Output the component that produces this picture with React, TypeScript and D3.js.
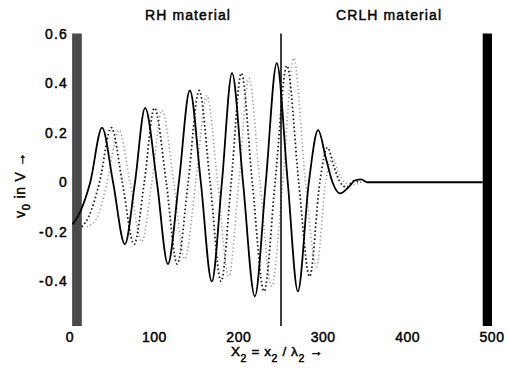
import React, { useEffect, useRef } from 'react';
import * as d3 from 'd3';

// tick values
const xTicks = [0, 100, 200, 300, 400, 500];
const yTicks = [-0.4, -0.2, 0, 0.2, 0.4, 0.6];

// solid curve (x in units of X2, value in V)
const solidWave: [number, number][] = [
  [3, -0.17], [12, -0.12], [24, 0], [38, 0.22], [51, 0], [65, -0.25], [77, 0],
  [89, 0.3], [103, 0], [116, -0.33], [129, 0], [142, 0.37], [155, 0], [168, -0.4],
  [180, 0], [192, 0.44], [205, 0], [219, -0.46], [232, 0], [245, 0.48], [258, 0],
  [270, -0.44], [283, 0], [294, 0.21], [303, 0.1], [311, 0], [320, -0.045],
  [330, -0.02], [338, 0.008], [345, 0.012], [352, 0], [489, 0]
];

// dark dotted curve
const darkDotted: [number, number][] = [
  [14, -0.18], [22, -0.14], [35, 0], [49, 0.22], [62, 0], [76, -0.25], [88, 0],
  [100, 0.3], [114, 0], [127, -0.33], [140, 0], [153, 0.37], [166, 0], [179, -0.4],
  [191, 0], [203, 0.44], [216, 0], [230, -0.44], [243, 0], [257, 0.47], [271, 0],
  [284, -0.38], [296, 0], [305, 0.14], [313, 0.06], [320, 0], [328, -0.02],
  [336, 0.005], [345, 0]
];

// light grey dotted curve
const lightDotted: [number, number][] = [
  [20, -0.18], [31, -0.15], [44, 0], [58, 0.21], [71, 0], [85, -0.24], [97, 0],
  [109, 0.29], [123, 0], [136, -0.31], [149, 0], [162, 0.35], [175, 0], [188, -0.38],
  [200, 0], [212, 0.42], [225, 0], [239, -0.42], [252, 0], [265, 0.5], [279, 0],
  [292, -0.34], [303, 0], [311, 0.1], [318, 0.04], [326, 0], [334, -0.01], [345, 0]
];

// boundaries: [x0, x1] of the absorbing walls and the RH/CRLH interface
const leftWall = [2.5, 14];
const rightWall = [489, 500];
const interfaceX = 250;
const wallRange = [-0.58, 0.6];

const regionTitles = [
  { label: 'RH material', x: 145 },
  { label: 'CRLH material', x: 336 }
];

const W = 507;
const H = 370;

export default function App() {
  const svgRef = useRef<SVGSVGElement>(null);

  useEffect(() => {
    const svg = d3.select(svgRef.current);
    svg.selectAll('*').remove();

    const x = d3.scaleLinear().domain([0, 500]).range([70, 492]);
    const y = d3.scaleLinear().domain([-0.6, 0.6]).range([331, 33.5]);
    const font = 'Liberation Sans, Arial, sans-serif';

    // text helper: regular face thickened a little, like the scanned figure
    const styleText = (sel: any, size = 14, spacing = 1) => sel
      .attr('font-family', font)
      .attr('font-size', size)
      .attr('letter-spacing', spacing)
      .attr('fill', '#000')
      .attr('stroke', '#000')
      .attr('stroke-width', 0.45);

    // walls
    svg.append('rect')
      .attr('x', x(leftWall[0]))
      .attr('y', y(wallRange[1]))
      .attr('width', x(leftWall[1]) - x(leftWall[0]))
      .attr('height', y(wallRange[0]) - y(wallRange[1]))
      .attr('fill', '#4a4a4a');

    svg.append('rect')
      .attr('x', x(rightWall[0]))
      .attr('y', y(wallRange[1]))
      .attr('width', x(rightWall[1]) - x(rightWall[0]))
      .attr('height', y(wallRange[0]) - y(wallRange[1]))
      .attr('fill', '#000');

    const line = d3.line<[number, number]>()
      .x(d => x(d[0]))
      .y(d => y(d[1]))
      .curve(d3.curveMonotoneX);

    svg.append('path')
      .attr('d', line(lightDotted))
      .attr('fill', 'none')
      .attr('stroke', '#9a9a9a')
      .attr('stroke-width', 1.6)
      .attr('stroke-dasharray', '1.2,2.6');

    svg.append('path')
      .attr('d', line(darkDotted))
      .attr('fill', 'none')
      .attr('stroke', '#222')
      .attr('stroke-width', 1.8)
      .attr('stroke-dasharray', '1.6,2.4');

    svg.append('path')
      .attr('d', line(solidWave))
      .attr('fill', 'none')
      .attr('stroke', '#000')
      .attr('stroke-width', 1.8);

    // interface line
    svg.append('line')
      .attr('x1', x(interfaceX)).attr('x2', x(interfaceX))
      .attr('y1', y(wallRange[1])).attr('y2', y(wallRange[0]))
      .attr('stroke', '#000')
      .attr('stroke-width', 1.5);

    // tick labels
    styleText(svg.append('g')
      .selectAll('text')
      .data(xTicks)
      .enter().append('text')
      .attr('x', d => x(d))
      .attr('y', 342)
      .attr('text-anchor', 'middle'), 14, 0.5)
      .text(d => String(d));

    styleText(svg.append('g')
      .selectAll('text')
      .data(yTicks)
      .enter().append('text')
      .attr('x', 68)
      .attr('y', d => y(d) + 5)
      .attr('text-anchor', 'end'), 14, 1.2)
      .text(d => (d === 0 ? '0' : String(d)));

    // region titles
    styleText(svg.append('g')
      .selectAll('text')
      .data(regionTitles)
      .enter().append('text')
      .attr('x', d => d.x)
      .attr('y', 20), 14, 1.1)
      .text(d => d.label);

    // x axis label
    const xl = styleText(svg.append('text')
      .attr('x', 231)
      .attr('y', 356), 13.5, 0.6);
    xl.append('tspan').text('X');
    xl.append('tspan').attr('dy', 6).attr('font-size', 10.5).text('2');
    xl.append('tspan').attr('dy', -6).text(' = x');
    xl.append('tspan').attr('dy', 6).attr('font-size', 10.5).text('2');
    xl.append('tspan').attr('dy', -6).text(' / λ');
    xl.append('tspan').attr('dy', 6).attr('font-size', 10.5).text('2');
    xl.append('tspan').attr('dy', -6).text(' →');

    // y axis label
    const yl = styleText(svg.append('text')
      .attr('transform', 'translate(25,218) rotate(-90)'), 14, 0.8);
    yl.append('tspan').text('v');
    yl.append('tspan').attr('dy', 5).attr('font-size', 11).text('0');
    yl.append('tspan').attr('dy', -5).text(' in V →');
  }, []);

  return (
    <svg
      ref={svgRef}
      width={W}
      height={H}
      style={{ position: 'absolute', left: 0, top: 0, background: '#fff' }}
    />
  );
}
